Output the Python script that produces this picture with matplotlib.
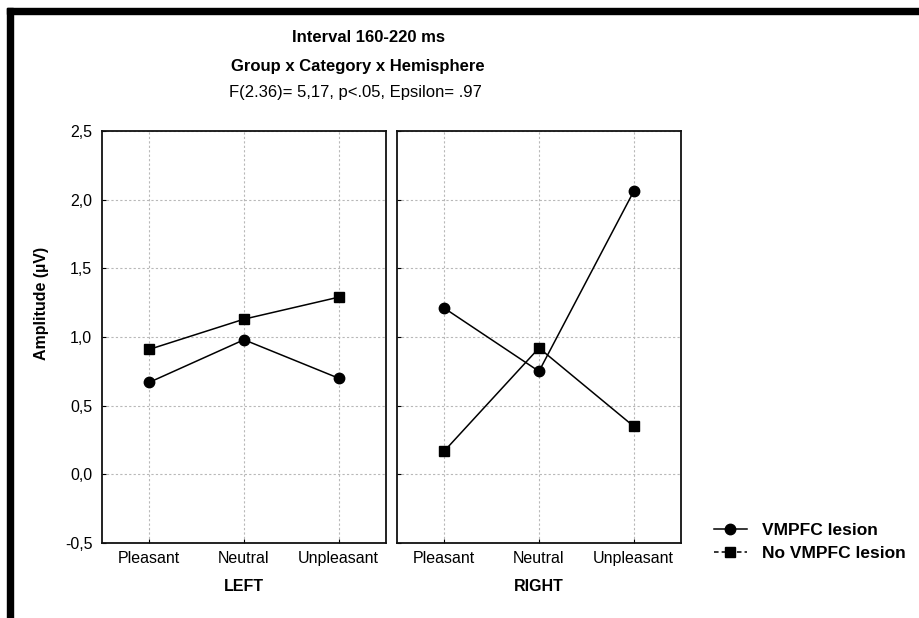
import matplotlib
matplotlib.use("Agg")
import matplotlib.pyplot as plt
from matplotlib.lines import Line2D
from matplotlib.patches import Rectangle

plt.rcParams['font.family'] = ['Liberation Sans', 'DejaVu Sans']

categories = ["Pleasant", "Neutral", "Unpleasant"]
hemispheres = ["LEFT", "RIGHT"]
vmpfc_lesion = {"LEFT": [0.67, 0.98, 0.70], "RIGHT": [1.21, 0.75, 2.06]}
no_vmpfc_lesion = {"LEFT": [0.91, 1.13, 1.29], "RIGHT": [0.17, 0.92, 0.35]}
y_ticks = [-0.5, 0.0, 0.5, 1.0, 1.5, 2.0, 2.5]
y_tick_labels = ["-0,5", "0,0", "0,5", "1,0", "1,5", "2,0", "2,5"]

W, H = 920, 618
fig = plt.figure(figsize=(W / 100, H / 100), dpi=100)


def px_axes(x0, y_top, x1, y_bot):
    return fig.add_axes([x0 / W, 1 - y_bot / H, (x1 - x0) / W, (y_bot - y_top) / H])


# frame bars at top and left
fig.patches.append(Rectangle((7 / W, 1 - 14 / H), 1, 6 / H, transform=fig.transFigure,
                             color="black", zorder=10))
fig.patches.append(Rectangle((7 / W, 0), 6 / W, 1 - 8 / H, transform=fig.transFigure,
                             color="black", zorder=10))

panels = [px_axes(102, 131, 386, 543), px_axes(397, 131, 681, 543)]
xs = list(range(len(categories)))
for ax, hemi in zip(panels, hemispheres):
    ax.plot(xs, vmpfc_lesion[hemi], color="black", lw=1.1, marker="o", ms=7.5, zorder=3)
    ax.plot(xs, no_vmpfc_lesion[hemi], color="black", lw=1.1, marker="s", ms=7.5, zorder=3)
    ax.set_xlim(-0.5, 2.5)
    ax.set_ylim(-0.5, 2.5)
    ax.set_xticks(xs)
    ax.set_xticklabels(categories, fontsize=11.5)
    ax.set_yticks(y_ticks)
    ax.grid(True, color="#b8b8b8", ls=(0, (2, 2)), lw=0.8)
    ax.tick_params(direction="in", length=3, width=0.8, pad=6)
    for s in ax.spines.values():
        s.set_linewidth(1.3)
        s.set_color("#111111")
    ax.set_xlabel(hemi, fontsize=11.5, fontweight="bold", labelpad=9)

panels[0].set_yticklabels(y_tick_labels, fontsize=11.5)
panels[0].tick_params(axis="y", pad=7)
panels[1].set_yticklabels([])

fig.text(368 / W, 1 - 37 / H, "Interval 160-220 ms", ha="center", va="center",
         fontsize=12, fontweight="bold")
fig.text(358 / W, 1 - 66 / H, "Group x Category x Hemisphere", ha="center", va="center",
         fontsize=12, fontweight="bold")
fig.text(355 / W, 1 - 93 / H, "F(2.36)= 5,17, p<.05, Epsilon= .97", ha="center", va="center",
         fontsize=12)
fig.text(42 / W, 1 - 303 / H, "Amplitude (µV)", ha="center", va="center", rotation=90,
         fontsize=11.5, fontweight="bold")

handles = [
    Line2D([], [], color="black", lw=1.1, marker="o", ms=7.5),
    Line2D([], [], color="black", lw=1.1, ls=(0, (3, 2)), marker="s", ms=7.5),
]
fig.legend(handles, ["VMPFC lesion", "No VMPFC lesion"], loc="center left",
           bbox_to_anchor=(705 / W, 1 - 542 / H), frameon=False,
           prop={"weight": "bold", "size": 12.5}, handlelength=1.9,
           handletextpad=0.9, labelspacing=0.45, borderpad=0)

fig.savefig("out.png", dpi=100, facecolor="white")
